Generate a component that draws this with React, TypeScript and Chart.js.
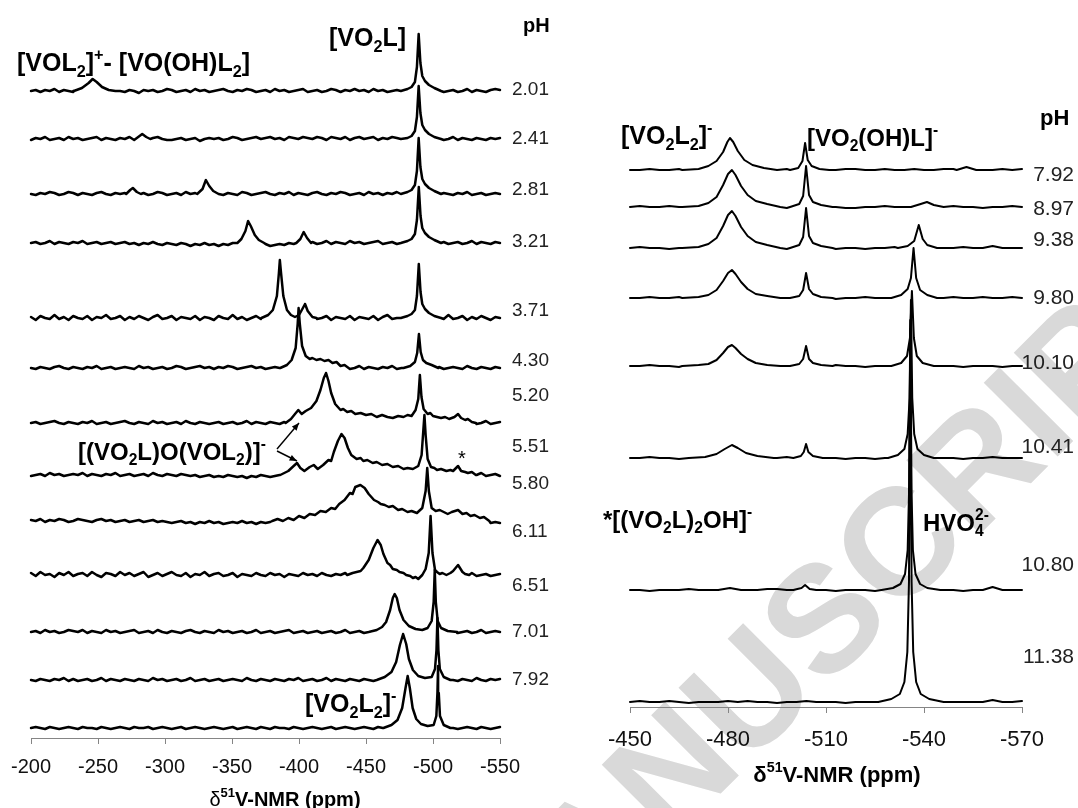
import React, { useEffect, useRef } from "react";
import { Chart, registerables } from "chart.js";

Chart.register(...registerables);

const FONT = "'Liberation Sans', Arial, Helvetica, sans-serif";

// ================= LEFT PANEL DATA =================
const leftPH = ["2.01", "2.41", "2.81", "3.21", "3.71", "4.30", "5.20", "5.51", "5.80", "6.11", "6.51", "7.01", "7.92"];
const leftTicks = [-200, -250, -300, -350, -400, -450, -500, -550];
// vertical stacking offset of each spectrum (intensity units)
const leftOffsets = [647, 599, 544, 495, 420, 370, 315, 263, 217, 163, 106, 58, 10];

// baseline noise, sampled evenly from -200 to -550 ppm
const leftNoise1 = [0,1,-1,1,0,2,-1,1,0,-1, 1,0,2,-1,0,1,-1,1,2,0, -1,1,0,-2,1,0,1,-1,0,2, 1,-1,0,1,-1,2,0,1,-1,0, 1,2,0,-1,1,0,2,1,-1,0, 1,-1,2,0,1,-1,0,1,2,-1, 0,1,-1,0,2,1,-1,1,0,2, 0,1,-1,2,0,1,-1,0,1,0, 2,1,-1,0,1,2,0,1,-1,0, 1,-1,0,2,-1,1,0,-1,1,2, 1];
const leftNoise2 = [-1,1,0,2,-1,0,1,-1,2,0, 1,-1,0,1,2,-1,1,0,-1,1, 0,2,-1,1,0,-1,1,2,0,-1, -1,0,1,-1,0,1,-2,0,1,0, 1,-1,0,2,1,-1,0,1,2,0, 1,2,0,1,-1,2,1,0,2,1, 0,2,1,-1,2,1,0,2,-1,1, 2,0,1,2,-1,1,0,2,1,0, -1,1,0,2,1,-1,0,1,-1,0, 2,-1,1,0,-1,1,0,-1,1,0, 1];
const leftNoise3 = [0,-1,1,0,2,1,-1,0,2,1, -1,1,0,-1,1,2,0,-1,1,0, 1,-1,2,0,1,-1,0,2,1,-1, 0,1,-1,2,0,1,-1,0,1,2, 0,-1,1,0,-1,2,1,-1,0,1, 2,0,-1,1,0,2,-1,1,0,-1, 1,2,0,-1,1,0,2,1,-1,0, 1,-1,2,0,1,-1,1,0,2,-1, 0,1,-1,0,2,1,0,-1,1,0, -1,1,0,2,-1,0,1,-1,0,1, 0];
const leftNoise4 = [0,1,-1,0,2,-1,1,0,-1,1, 0,2,-1,0,1,-1,0,1,-1,0, 1,-1,0,-2,0,-1,1,-1,-2,0, -1,-2,0,-1,-3,-1,-2,0,-2,-1, -3,-1,-2,0,-1,-2,-1,-3,-1,-2, -1,-3,-2,-1,-2,0,-1,-2,-1,0, 1,-1,0,2,-1,1,0,-1,2,0, 1,-1,0,1,2,-1,0,1,-1,0, 2,0,-1,1,0,-1,2,0,1,-1, 0,1,-1,0,2,-1,1,0,-1,1, 0];
const leftNoise5 = [1,-2,2,0,-1,3,-1,1,-2,2, 0,-1,2,-2,1,0,3,-1,0,2, -2,1,-1,2,0,-2,1,3,-1,0, 2,-2,1,0,-1,2,-2,1,0,-2, 2,0,-1,3,-1,1,-2,0,2,-1, 1,-2,2,0,-1,1,-2,2,0,-1, 3,-1,0,2,-2,1,0,-1,2,-2, 1,0,-1,2,-2,1,3,-1,0,1, -2,2,0,-1,1,-2,2,0,-1,3, -1,0,2,-2,1,-1,2,0,-2,1, 0];
const leftNoise6 = [0,-1,1,0,-1,1,2,0,-1,1, 0,-1,1,0,2,-1,0,1,-1,0, 1,0,-1,2,0,1,-1,0,1,-1, 0,2,1,-1,0,1,2,0,1,-1, 1,0,2,1,-1,0,1,2,0,1, -1,0,1,0,2,-1,1,0,-1,1, 0,2,-1,1,0,-1,0,1,-1,0, 2,-1,1,0,-1,1,0,2,-1,0, 1,-1,0,1,2,-1,0,1,-1,0, 1,0,-1,2,0,-1,1,0,-1,1, 0];
const leftNoise7 = [0,1,-1,0,1,2,0,-1,1,0, -1,1,0,2,-1,0,1,-1,0,1, 2,0,-1,1,0,-1,2,0,1,-1, 0,1,-1,2,0,-1,1,0,-1,0, 1,-1,0,1,-1,0,2,-1,1,0, -1,1,0,-1,1,0,-1,2,0,-1, 1,0,2,-1,0,1,-1,0,1,-1, 0,1,-1,0,2,-1,0,1,0,-1, 1,0,-1,1,0,2,-1,0,1,-1, 0,1,-1,0,1,-1,0,2,-1,0, 1];
const leftNoise8 = [-1,0,1,-1,2,0,1,-1,0,1, 0,2,-1,1,0,-1,1,0,2,-1, 0,1,-1,0,1,-1,2,0,-1,1, 0,-1,1,0,-1,0,-2,-1,0,-2, -1,-2,0,-1,-2,-1,-3,-1,-2,0, -1,-2,-1,0,-2,-1,0,1,-1,0, 1,-1,0,1,2,-1,0,1,-1,0, 2,0,-1,1,0,-1,1,0,-1,2, 0,-1,1,0,-1,1,0,2,-1,0, 1,-1,0,1,-1,0,2,-1,0,1, -1];
const leftNoise9 = [1,0,2,-1,1,0,2,1,-1,0, 2,1,0,-1,1,2,0,1,-1,0, 1,-1,0,1,-1,0,1,-1,0,-1, -2,-1,0,-2,-1,-3,-1,-2,0,-2, -1,-3,-2,-1,-2,0,-2,-1,-3,-1, -2,-1,-2,0,-1,-1,0,1,0,1, 0,1,2,0,1,0,1,-1,1,0, 1,0,2,0,1,0,1,0,2,1, 0,1,0,1,0,-1,0,1,0,-1, 0,-1,0,1,-1,0,-1,0,-2,-1, -2];
const leftNoise10 = [2,-1,3,0,1,-2,2,0,3,-1, 1,2,-1,3,0,-2,2,1,-1,3, 0,2,-1,1,3,-2,0,2,-1,1, 3,0,-1,2,-2,1,0,3,-1,1, 2,-1,0,2,-2,1,0,-1,2,0, -1,2,0,1,-2,1,0,-1,2,0, 1,-1,2,0,-1,1,0,2,-1,0, 1,-2,0,1,-1,0,2,-1,0,1, -1,0,1,-2,0,1,-1,0,2,-1, 0,1,-1,0,2,-1,0,1,-1,0, 1];
const leftNoise11 = [0,1,-1,2,0,1,-1,0,2,1, 0,2,-1,1,0,-1,2,0,1,-1, 0,1,2,-1,0,1,-1,2,0,-1, 1,0,-1,1,2,0,-1,1,0,-1, 2,0,1,-1,0,1,-1,0,2,-1, 0,1,-1,0,1,2,-1,0,1,-1, 0,1,-1,0,1,-1,0,2,-1,0, 1,-1,0,1,-1,0,1,0,-1,1, 0,-1,1,0,2,-1,0,1,-1,0, 1,-1,0,1,-1,0,2,-1,0,1, 0];
const leftNoise12 = [0,-1,1,0,-1,1,0,2,-1,1, -1,0,1,-1,0,2,-1,1,0,-1, 1,0,-1,1,0,-1,2,0,1,-1, 0,1,-1,0,2,-1,0,1,-1,0, 1,-1,0,1,0,-1,2,0,-1,1, 0,-1,1,0,-1,1,0,2,-1,0, 1,-1,0,2,-1,1,0,-1,1,0, -1,1,0,-1,2,0,-1,1,0,-1, 1,0,-1,1,0,-1,2,0,-1,1, 0,-1,1,0,-1,2,0,-1,1,0, 1];
const leftNoise13 = [0,1,0,-1,1,0,-1,0,1,0, -1,1,0,0,-1,1,0,-1,0,1, 0,-1,1,0,0,1,-1,0,1,0, -1,0,1,-1,0,1,0,-1,0,1, 0,-1,0,1,-1,0,1,0,-1,1, 0,-1,1,0,0,-1,1,0,-1,0, 1,0,-1,0,1,-1,0,1,0,-1, 0,1,0,-1,1,0,-1,0,1,0, -1,0,1,0,-1,1,0,-1,0,1, 0,-1,0,1,0,-1,1,0,-1,0, 1];

// peak segments: [ppm, intensity above baseline]
const leftPeaks1 = [
  [[-232,0],[-238,3],[-243,8],[-246,12],[-249,9],[-253,4],[-258,1],[-263,0]],
  [[-476,0],[-481,2],[-484,4],[-486.5,9],[-488,24],[-489.3,57],[-490.6,28],[-492,15],[-494,10],[-497,6],[-501,3],[-506,0]],
];
const leftPeaks2 = [
  [[-278,0],[-281,3],[-283,5],[-286,2],[-289,0]],
  [[-476,0],[-481,1],[-484,3],[-486.5,8],[-488,22],[-489.3,53],[-490.6,26],[-492,14],[-494,9],[-497,5],[-501,2],[-506,0]],
];
const leftPeaks3 = [
  [[-271,0],[-274,4],[-276,6],[-279,2],[-282,0]],
  [[-324,0],[-328,5],[-330.5,14],[-333,8],[-336,3],[-340,0]],
  [[-476,0],[-481,2],[-484,4],[-486.5,9],[-488,23],[-489.3,56],[-490.6,27],[-492,15],[-494,10],[-497,6],[-501,3],[-506,0]],
];
const leftPeaks4 = [
  [[-354,0],[-357,4],[-360,12],[-362,22],[-364,17],[-367,8],[-370,3],[-374,0]],
  [[-398,0],[-401,4],[-403.5,11],[-406,5],[-409,0]],
  [[-476,0],[-481,2],[-484,4],[-486.5,9],[-488,23],[-489.4,56],[-490.7,27],[-492,15],[-494,10],[-497,6],[-501,3],[-506,0]],
];
const leftPeaks5 = [
  [[-372,0],[-377,3],[-380.5,8],[-383.5,22],[-385,45],[-385.7,58],[-386.6,45],[-388.3,22],[-391,8],[-394,3],[-397,1],[-400,3],[-402.5,9],[-404.5,14],[-406.5,7],[-410,1],[-413,0]],
  [[-476,0],[-481,2],[-484,4],[-486.5,8],[-488,22],[-489.4,54],[-490.7,26],[-492,14],[-494,9],[-497,5],[-501,2],[-506,0]],
];
const leftPeaks6 = [
  [[-386,0],[-391,3],[-394.5,8],[-397.5,20],[-399,44],[-399.7,60],[-400.6,44],[-402.3,22],[-405,12],[-408,9],[-410,10],[-413,8],[-416,9],[-419,7],[-422,8],[-425,5],[-428,6],[-431,2],[-434,3],[-437,0]],
  [[-478,0],[-483,2],[-486.5,6],[-488.2,15],[-489.5,34],[-490.8,16],[-492.5,8],[-495,5],[-499,3],[-504,0]],
];
const leftPeaks7 = [
  [[-390,0],[-394,4],[-397,9],[-399.5,13],[-402,9],[-405,12],[-409,15],[-413,22],[-416,33],[-418.5,45],[-420.2,50],[-422,42],[-424,30],[-427,19],[-429,16],[-431,13],[-433,14],[-436,11],[-439,12],[-442,9],[-446,10],[-450,8],[-454,9],[-458,6],[-462,8],[-466,6],[-470,5],[-474,7],[-478,6],[-481,8],[-484,7],[-487,13],[-489,24],[-490.2,48],[-491.4,26],[-493,14],[-496,9],[-498,10],[-500,7],[-503,6],[-506,5],[-509,6],[-512,4],[-516,6],[-518.7,9],[-521,5],[-524,3],[-526,4],[-529,1],[-532,0]],
];
const leftPeaks8 = [
  [[-386,0],[-392,4],[-396,9],[-398.5,12],[-401,7],[-404,4],[-408,8],[-411,10],[-414,6],[-418,10],[-422,15],[-424,14],[-426,23],[-429,34],[-431.7,41],[-434,37],[-436.5,27],[-439,20],[-441,18],[-443,16],[-446,17],[-448,14],[-451,15],[-455,12],[-458,13],[-462,10],[-466,11],[-470,8],[-474,9],[-478,6],[-481,7],[-485,6],[-489,9],[-491.5,20],[-492.8,45],[-493.6,60],[-494.5,40],[-496,16],[-498.5,8],[-501,7],[-503,5],[-506,6],[-510,4],[-513,5],[-515,4],[-518.7,9],[-521,4],[-524,3],[-526,2],[-529,3],[-532,0]],
];
const leftPeaks9 = [
  [[-380,0],[-384,2],[-388,0],[-392,3],[-396,1],[-400,5],[-404,3],[-408,7],[-412,6],[-416,10],[-420,9],[-424,13],[-427,12],[-430,17],[-434,21],[-438,28],[-440,27],[-442,34],[-445.8,36],[-449,33],[-452,27],[-454,24],[-456,21],[-459,19],[-461,17],[-464,16],[-467,14],[-470,15],[-474,11],[-477,12],[-481,9],[-484,10],[-488,8],[-492,13],[-494.5,30],[-495.7,53],[-496.9,30],[-499,13],[-502,10],[-505,11],[-508,9],[-511,7],[-514,9],[-518.7,11],[-522,7],[-525,8],[-528,5],[-531,6],[-535,3],[-538,4],[-542,0]],
];
const leftPeaks10 = [
  [[-436,0],[-440,2],[-443,3],[-446,4],[-448,7],[-452,15],[-455.5,27],[-458.6,35],[-461,30],[-463,21],[-466,12],[-468,10],[-470,6],[-473,5],[-475,3],[-478,2],[-480,0],[-483,-1],[-485,-3],[-487,-2],[-489,-4],[-492,0],[-494.5,6],[-496.8,22],[-498.2,59],[-499.6,22],[-501.5,5],[-503,3],[-505,1],[-507,2],[-510,0],[-513,2],[-515,4],[-518.7,10],[-522,3],[-524,1],[-527,0]],
];
const leftPeaks11 = [
  [[-452,0],[-458,2],[-462,5],[-465,10],[-468,22],[-470,34],[-471.4,38],[-473,34],[-475,22],[-478,12],[-482,6],[-487,3],[-492,2],[-496,4],[-499,11],[-500.5,30],[-501.3,62],[-502.1,30],[-503.5,11],[-506,4],[-511,1],[-518,0]],
];
const leftPeaks12 = [
  [[-458,0],[-464,3],[-469,8],[-472.5,18],[-475.3,35],[-477.7,46],[-480,36],[-482,21],[-485,10],[-489,4],[-494,2],[-499,3],[-501.5,11],[-502.6,30],[-503.3,62],[-504,30],[-505.1,11],[-508,3],[-513,0]],
];
const leftPeaks13 = [
  [[-463,0],[-469,3],[-473.5,8],[-477,20],[-479.5,40],[-481.1,52],[-482.7,40],[-484.8,20],[-487.5,9],[-491,4],[-496,2],[-500.5,3],[-502.5,12],[-503.3,35],[-503.8,62],[-504.3,35],[-505.2,12],[-508,3],[-513,0]],
];

const leftNoise = [leftNoise1, leftNoise2, leftNoise3, leftNoise4, leftNoise5, leftNoise6, leftNoise7, leftNoise8, leftNoise9, leftNoise10, leftNoise11, leftNoise12, leftNoise13];
const leftPeaks = [leftPeaks1, leftPeaks2, leftPeaks3, leftPeaks4, leftPeaks5, leftPeaks6, leftPeaks7, leftPeaks8, leftPeaks9, leftPeaks10, leftPeaks11, leftPeaks12, leftPeaks13];

// ================= RIGHT PANEL DATA =================
const rightPH = ["7.92", "8.97", "9.38", "9.80", "10.10", "10.41", "10.80", "11.38"];
const rightTicks = [-450, -480, -510, -540, -570];
const rightOffsets = [537, 500, 459, 409, 341, 249, 117, 5];

// baseline noise, sampled evenly from -450 to -570 ppm
const rightNoise1 = [0,0,1,0,0,1,1,0,0,1, 1,2,1,1,0,0,1,0,0,1, 0,0,1,1,0,0,1,0,0,1, 0,0,1,1,2,1,0,0,1,0, 1];
const rightNoise2 = [0,1,0,0,1,0,-1,0,1,0, 0,1,0,1,0,0,-1,0,0,1, 0,0,-1,-1,0,0,1,0,0,0, 1,0,0,1,0,0,-1,0,0,1, 0];
const rightNoise3 = [0,1,0,0,-1,0,0,1,0,-1, -1,0,0,1,0,0,-1,-1,0,0, 0,-1,0,0,-1,0,0,1,0,0, -1,0,0,0,1,0,0,1,0,0, 0];
const rightNoise4 = [0,0,1,0,0,1,0,0,-1,0, 1,1,0,0,0,1,0,0,1,0, 0,-1,0,0,1,0,0,1,0,0, 1,0,0,1,0,0,1,0,0,1, 0];
const rightNoise5 = [0,0,1,0,0,-1,0,0,1,0, 0,-1,0,0,0,1,0,0,-1,0, 0,1,0,0,-1,0,0,1,0,0, 0,1,0,0,-1,0,0,0,-1,0, 0];
const rightNoise6 = [0,0,1,0,0,-1,0,1,0,0, -1,0,1,0,0,0,1,0,0,-1, 0,0,-1,0,0,-1,0,0,1,0, 0,-1,0,0,-1,0,0,1,0,0, 0];
const rightNoise7 = [0,0,-1,0,0,0,1,0,0,-1, 0,1,0,0,1,1,0,0,-1,0, 0,-1,0,0,0,-1,0,0,1,0, 0,-1,0,0,-1,0,0,0,1,0, 0];
const rightNoise8 = [0,1,0,0,1,0,-1,0,0,0, 1,0,1,0,0,-1,0,0,1,0, 0,0,-1,0,0,0,1,0,0,-1, 0,0,1,0,0,0,1,0,0,0, 1];

const rightPeaks1 = [
  [[-466,0],[-471,1],[-474,4],[-476.5,9],[-478.5,18],[-479.8,28],[-480.6,32],[-481.6,28],[-483,19],[-485,10],[-487.5,5],[-491,2],[-495,0]],
  [[-499,0],[-501.5,2],[-502.8,9],[-503.6,27],[-504.4,10],[-505.6,4],[-508,1],[-511,0]],
  [[-550,0],[-553,3],[-556,0]],
];
const rightPeaks2 = [
  [[-466,0],[-471,1],[-474,4],[-476.5,10],[-478.5,22],[-480,33],[-481.2,37],[-482.3,32],[-484,21],[-486,12],[-488.5,6],[-492,3],[-496,0]],
  [[-499,0],[-501.8,3],[-503,11],[-503.9,41],[-504.8,12],[-506,5],[-508.5,2],[-512,0]],
  [[-536,0],[-539,3],[-540.9,5],[-543,2],[-546,0]],
];
const rightPeaks3 = [
  [[-466,0],[-471,1],[-474,4],[-476.5,10],[-478.5,22],[-480,33],[-481.2,37],[-482.3,32],[-484,21],[-486,12],[-488.5,6],[-492,3],[-496,0]],
  [[-499,0],[-501.8,3],[-503,11],[-503.9,40],[-504.8,12],[-506,5],[-508.5,2],[-512,0]],
  [[-532,0],[-535,2],[-537,7],[-538.4,23],[-539.6,9],[-541,3],[-544,0]],
  [[-558,0],[-561,2],[-564,0]],
];
const rightPeaks4 = [
  [[-466,0],[-471,1],[-474,3],[-476.5,8],[-478.5,17],[-480,25],[-481.2,28],[-482.3,24],[-484,16],[-486,9],[-488.5,4],[-492,2],[-496,0]],
  [[-499,0],[-501.8,2],[-503,8],[-503.9,25],[-504.8,9],[-506,4],[-508.5,1],[-512,0]],
  [[-530,0],[-533,3],[-535,9],[-536,20],[-536.8,50],[-537.6,20],[-538.8,8],[-541,3],[-544,0]],
];
const rightPeaks5 = [
  [[-466,0],[-471,1],[-474,2],[-476.5,6],[-478.5,13],[-480,19],[-481.2,21],[-482.3,18],[-484,12],[-486,7],[-488.5,3],[-492,1],[-496,0]],
  [[-499,0],[-501.8,2],[-503,7],[-503.9,20],[-504.8,7],[-506,3],[-508.5,1],[-512,0]],
  [[-530,0],[-533,3],[-534.8,10],[-535.7,28],[-536.3,75],[-536.9,28],[-537.8,10],[-539.6,3],[-543,0]],
];
const rightPeaks6 = [
  [[-468,0],[-473,1],[-476.5,4],[-479,9],[-481.2,13],[-483,10],[-485.5,5],[-489,2],[-494,0]],
  [[-500,0],[-502.3,2],[-503.2,6],[-503.9,14],[-504.6,6],[-506,2],[-509,0]],
  [[-529,0],[-532,3],[-534,9],[-535,24],[-535.6,60],[-536,158],[-536.4,60],[-537,24],[-538,9],[-540,3],[-543,0]],
];
const rightPeaks7 = [
  [[-477,0],[-480.6,2],[-484,0]],
  [[-500,0],[-502.5,2],[-503.6,5],[-505,1],[-507,0]],
  [[-527,0],[-530.5,2],[-532.8,6],[-534.2,16],[-535,40],[-535.4,95],[-535.8,270],[-536.2,95],[-536.6,40],[-537.4,16],[-538.8,6],[-541,2],[-545,0]],
  [[-558,0],[-561,3],[-564,0]],
];
const rightPeaks8 = [
  [[-526,0],[-530,3],[-532.6,8],[-534,20],[-534.9,50],[-535.4,120],[-535.8,373],[-536.2,120],[-536.7,50],[-537.6,20],[-539,8],[-541.6,3],[-546,0]],
  [[-558,0],[-561,2],[-564,0]],
];

const rightNoise = [rightNoise1, rightNoise2, rightNoise3, rightNoise4, rightNoise5, rightNoise6, rightNoise7, rightNoise8];
const rightPeaks = [rightPeaks1, rightPeaks2, rightPeaks3, rightPeaks4, rightPeaks5, rightPeaks6, rightPeaks7, rightPeaks8];

// ================= LAYOUT (pixels) =================
const L = { left: 29, right: 500, top: 20, axis: 738 };
const R = { left: 630, right: 1022, top: 100, axis: 707 };
const LEFT_LABEL_X = 512;
const LEFT_LABEL_Y = [90, 139, 190, 242, 311, 361, 396, 447, 484, 532, 586, 632, 680];
const RIGHT_LABEL_X = 1074;
const RIGHT_LABEL_Y = [175, 209, 240, 298, 363, 447, 565, 657];

type Pt = { x: number; y: number };

function buildSpectrum(noise: number[], peaks: number[][][], offset: number, start: number, end: number): Pt[] {
  const n = noise.length;
  const pts: Pt[] = [];
  for (let i = 0; i < n; i++) {
    const x = start + ((end - start) * i) / (n - 1);
    const covered = peaks.some((seg) => x <= seg[0][0] && x >= seg[seg.length - 1][0]);
    if (!covered) pts.push({ x, y: offset + noise[i] });
  }
  for (const seg of peaks) for (const [x, h] of seg) pts.push({ x, y: offset + h });
  pts.sort((a, b) => a.x - b.x);
  return pts;
}

type Seg = { t?: string; k?: "sub" | "sup"; w?: string; stack?: [string, string] };

function richWidth(ctx: CanvasRenderingContext2D, segs: Seg[], size: number, weight: string) {
  let w = 0;
  for (const s of segs) {
    const wt = s.w ?? weight;
    if (s.stack) {
      ctx.font = `${wt} ${size * 0.65}px ${FONT}`;
      w += Math.max(ctx.measureText(s.stack[0]).width, ctx.measureText(s.stack[1]).width);
    } else {
      ctx.font = `${wt} ${s.k ? size * 0.65 : size}px ${FONT}`;
      w += ctx.measureText(s.t || "").width;
    }
  }
  return w;
}

function drawRich(ctx: CanvasRenderingContext2D, segs: Seg[], x: number, cy: number, size: number, weight: string, color: string, align: "left" | "center" = "left") {
  ctx.save();
  ctx.fillStyle = color;
  ctx.textBaseline = "alphabetic";
  ctx.textAlign = "left";
  const base = cy + size * 0.36;
  let cx = align === "center" ? x - richWidth(ctx, segs, size, weight) / 2 : x;
  for (const s of segs) {
    const wt = s.w ?? weight;
    if (s.stack) {
      ctx.font = `${wt} ${size * 0.65}px ${FONT}`;
      ctx.fillText(s.stack[0], cx, base + size * 0.22);
      ctx.fillText(s.stack[1], cx, base - size * 0.45);
      cx += Math.max(ctx.measureText(s.stack[0]).width, ctx.measureText(s.stack[1]).width);
    } else {
      const fs = s.k ? size * 0.65 : size;
      ctx.font = `${wt} ${fs}px ${FONT}`;
      const dy = s.k === "sub" ? size * 0.22 : s.k === "sup" ? -size * 0.45 : 0;
      ctx.fillText(s.t || "", cx, base + dy);
      cx += ctx.measureText(s.t || "").width;
    }
  }
  ctx.restore();
}

function drawArrow(ctx: CanvasRenderingContext2D, x1: number, y1: number, x2: number, y2: number) {
  ctx.save();
  ctx.strokeStyle = "#000";
  ctx.fillStyle = "#000";
  ctx.lineWidth = 1.4;
  ctx.beginPath();
  ctx.moveTo(x1, y1);
  ctx.lineTo(x2, y2);
  ctx.stroke();
  const a = Math.atan2(y2 - y1, x2 - x1);
  const hl = 8;
  ctx.beginPath();
  ctx.moveTo(x2, y2);
  ctx.lineTo(x2 - hl * Math.cos(a - 0.4), y2 - hl * Math.sin(a - 0.4));
  ctx.lineTo(x2 - hl * Math.cos(a + 0.4), y2 - hl * Math.sin(a + 0.4));
  ctx.closePath();
  ctx.fill();
  ctx.restore();
}

const leftDeco = {
  id: "leftDeco",
  afterDraw(chart: any) {
    const ctx: CanvasRenderingContext2D = chart.ctx;
    const B = "bold";
    drawRich(ctx, [{ t: "[VOL" }, { t: "2", k: "sub" }, { t: "]" }, { t: "+", k: "sup" }, { t: "- [VO(OH)L" }, { t: "2", k: "sub" }, { t: "]" }], 17, 62, 25, B, "#000");
    drawRich(ctx, [{ t: "[VO" }, { t: "2", k: "sub" }, { t: "L]" }], 329, 37, 25, B, "#000");
    drawRich(ctx, [{ t: "pH" }], 523, 25, 20, B, "#000");
    drawRich(ctx, [{ t: "[(VO" }, { t: "2", k: "sub" }, { t: "L)O(VOL" }, { t: "2", k: "sub" }, { t: ")]" }, { t: "-", k: "sup" }], 78, 451, 24, B, "#000");
    drawRich(ctx, [{ t: "*" }], 458, 458, 20, "normal", "#000");
    drawRich(ctx, [{ t: "[VO" }, { t: "2", k: "sub" }, { t: "L" }, { t: "2", k: "sub" }, { t: "]" }, { t: "-", k: "sup" }], 305, 703, 25, B, "#000");
    drawArrow(ctx, 277, 449, 299, 423);
    drawArrow(ctx, 277, 451, 297, 461);
    ctx.save();
    ctx.font = `19px ${FONT}`;
    ctx.fillStyle = "#222";
    ctx.textBaseline = "middle";
    ctx.textAlign = "left";
    leftPH.forEach((p, i) => ctx.fillText(p, LEFT_LABEL_X, LEFT_LABEL_Y[i]));
    ctx.restore();
    drawRich(ctx, [{ t: "δ", w: "normal" }, { t: "51", k: "sup" }, { t: "V-NMR (ppm)" }], 285, 799, 20, B, "#000", "center");
  },
};

const rightDeco = {
  id: "rightDeco",
  beforeDraw(chart: any) {
    const ctx: CanvasRenderingContext2D = chart.ctx;
    ctx.save();
    ctx.fillStyle = "#d9d9d9";
    ctx.font = `bold 152px ${FONT}`;
    ctx.textBaseline = "middle";
    ctx.textAlign = "left";
    ctx.translate(600, 855);
    ctx.rotate((-45 * Math.PI) / 180);
    const pre = ctx.measureText("ACCEPTED M").width + ctx.measureText("A").width / 2;
    ctx.fillText("ACCEPTED MANUSCRIPT", -pre, 0);
    ctx.restore();
  },
  afterDraw(chart: any) {
    const ctx: CanvasRenderingContext2D = chart.ctx;
    const B = "bold";
    drawRich(ctx, [{ t: "[VO" }, { t: "2", k: "sub" }, { t: "L" }, { t: "2", k: "sub" }, { t: "]" }, { t: "-", k: "sup" }], 621, 135, 25, B, "#000");
    drawRich(ctx, [{ t: "[VO" }, { t: "2", k: "sub" }, { t: "(OH)L]" }, { t: "-", k: "sup" }], 807, 137, 24, B, "#000");
    drawRich(ctx, [{ t: "pH" }], 1040, 117, 22, B, "#000");
    drawRich(ctx, [{ t: "*[(VO" }, { t: "2", k: "sub" }, { t: "L)" }, { t: "2", k: "sub" }, { t: "OH]" }, { t: "-", k: "sup" }], 603, 519, 24, B, "#000");
    drawRich(ctx, [{ t: "HVO" }, { stack: ["4", "2-"] }], 923, 522, 24, B, "#000");
    ctx.save();
    ctx.font = `21px ${FONT}`;
    ctx.fillStyle = "#222";
    ctx.textBaseline = "middle";
    ctx.textAlign = "right";
    rightPH.forEach((p, i) => ctx.fillText(p, RIGHT_LABEL_X, RIGHT_LABEL_Y[i]));
    ctx.restore();
    drawRich(ctx, [{ t: "δ" }, { t: "51", k: "sup" }, { t: "V-NMR (ppm)" }], 837, 774, 22, B, "#000", "center");
  },
};

function makeConfig(side: "left" | "right"): any {
  const isLeft = side === "left";
  const box = isLeft ? L : R;
  const noise = isLeft ? leftNoise : rightNoise;
  const peaks = isLeft ? leftPeaks : rightPeaks;
  const offsets = isLeft ? leftOffsets : rightOffsets;
  const ticks = isLeft ? leftTicks : rightTicks;
  const xmin = ticks[ticks.length - 1];
  const xmax = ticks[0];
  const datasets = noise.map((nz, i) => ({
    data: buildSpectrum(nz, peaks[i], offsets[i], xmax, xmin),
    borderColor: "#000",
    borderWidth: isLeft ? 2.5 : 2,
    pointRadius: 0,
    tension: 0,
    fill: false,
    clip: false,
    borderJoinStyle: "round",
    borderCapStyle: "round",
  }));
  return {
    type: "line",
    data: { datasets },
    plugins: [isLeft ? leftDeco : rightDeco],
    options: {
      responsive: false,
      maintainAspectRatio: false,
      animation: false,
      events: [],
      layout: { padding: { left: box.left, right: 1078 - box.right, top: box.top, bottom: 0 } },
      plugins: { legend: { display: false }, tooltip: { enabled: false }, title: { display: false } },
      scales: {
        x: {
          type: "linear",
          min: xmin,
          max: xmax,
          reverse: true,
          afterFit: (s: any) => {
            s.height = 808 - box.axis;
          },
          afterBuildTicks: (s: any) => {
            s.ticks = ticks.map((v) => ({ value: v }));
          },
          ticks: {
            autoSkip: false,
            maxRotation: 0,
            color: "#111",
            padding: isLeft ? 11 : 14,
            font: { family: FONT, size: isLeft ? 20 : 22 },
            callback: (v: number) => String(v),
          },
          grid: { display: true, drawOnChartArea: false, drawTicks: true, tickLength: 6, color: "#858585", lineWidth: 1 },
          border: { display: true, color: "#858585", width: 1 },
        },
        y: { display: false, min: 0, max: box.axis - box.top },
      },
    },
  };
}

export default function App() {
  const leftRef = useRef<HTMLCanvasElement>(null);
  const rightRef = useRef<HTMLCanvasElement>(null);
  useEffect(() => {
    const rc = new Chart(rightRef.current as HTMLCanvasElement, makeConfig("right"));
    const lc = new Chart(leftRef.current as HTMLCanvasElement, makeConfig("left"));
    return () => {
      lc.destroy();
      rc.destroy();
    };
  }, []);
  return (
    <div style={{ position: "absolute", left: 0, top: 0, width: 1078, height: 808, background: "#fff", overflow: "hidden" }}>
      <canvas ref={rightRef} width={1078} height={808} style={{ position: "absolute", left: 0, top: 0 }} />
      <canvas ref={leftRef} width={1078} height={808} style={{ position: "absolute", left: 0, top: 0 }} />
    </div>
  );
}
